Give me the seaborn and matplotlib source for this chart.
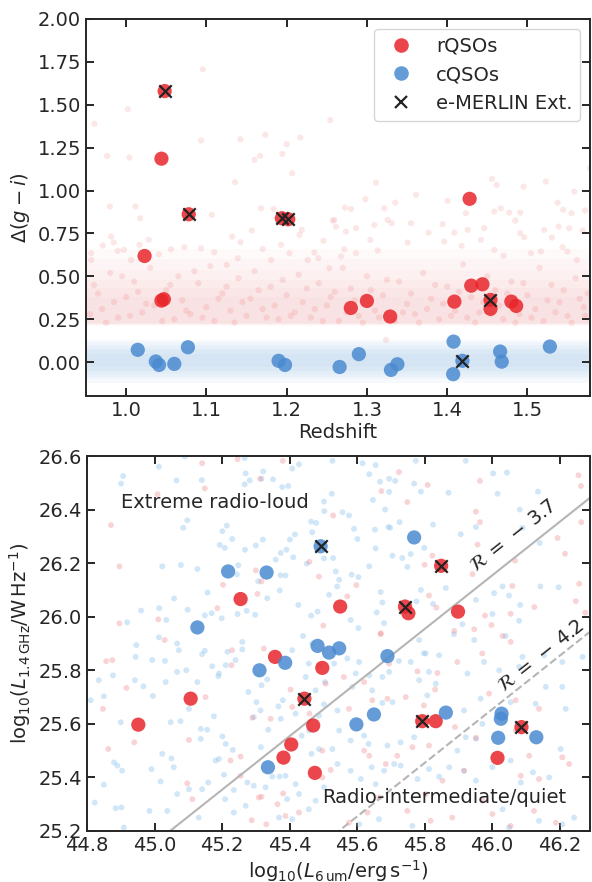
import numpy as np
import pandas as pd
import matplotlib
matplotlib.use("Agg")
import matplotlib.pyplot as plt
from matplotlib.lines import Line2D
import seaborn as sns

# ---------------- data: top panel (redshift vs Delta(g-i)) ----------------
r_z = [1.048, 1.044, 1.078, 1.194, 1.202, 1.023, 1.044, 1.047, 1.428, 1.280,
       1.300, 1.329, 1.409, 1.430, 1.444, 1.454, 1.454, 1.480, 1.486]
r_dgi = [1.58, 1.186, 0.862, 0.839, 0.833, 0.619, 0.359, 0.367, 0.952, 0.316,
         0.357, 0.266, 0.353, 0.446, 0.454, 0.363, 0.311, 0.353, 0.328]
r_ext = [1, 0, 1, 1, 1, 0, 0, 0, 0, 0, 0, 0, 0, 0, 0, 1, 0, 0, 0]

c_z = [1.0145, 1.037, 1.041, 1.060, 1.077, 1.190, 1.198, 1.266, 1.290, 1.330,
       1.338, 1.408, 1.4075, 1.419, 1.466, 1.468, 1.528]
c_dgi = [0.072, 0.004, -0.016, -0.010, 0.087, 0.008, -0.016, -0.028, 0.047, -0.045,
         -0.012, 0.120, -0.070, 0.008, 0.062, 0.003, 0.091]
c_ext = [0, 0, 0, 0, 0, 0, 0, 0, 0, 0, 0, 0, 0, 1, 0, 0, 0]

# parent-sample clouds (top panel)
bg_r_z = [1.0955, 0.9606, 1.0021, 0.9763, 1.0042, 1.0934, 1.1424, 1.1735, 1.2171, 1.2001,
          1.1947, 1.1598, 1.1669, 1.2068, 1.1357, 1.2544, 0.9797, 1.0116, 1.0174, 1.1067,
          1.1681, 1.1839, 1.2574, 1.2615, 1.1320, 1.1424, 1.1565, 1.2188, 1.2159, 1.2458,
          0.9813, 0.9846, 0.9709, 1.0282, 1.0166, 0.9895, 0.9971, 0.9564, 0.9564, 1.0062,
          1.0407, 1.0560, 1.0726, 1.0934, 1.1100, 1.1253, 1.1391, 1.1702, 1.1806, 1.1931,
          1.2034, 1.2262, 1.2395, 1.2345, 1.2532,
          1.3113, 1.4558, 1.4616, 1.4952, 1.5230, 1.5583, 1.5783, 1.4006, 1.3612, 1.3217,
          1.3354, 1.2727, 1.2802, 1.2981, 1.4234, 1.4255, 1.4587, 1.4670, 1.4774, 1.4911,
          1.4849, 1.5446, 1.5550, 1.5720, 1.5376, 1.2595, 1.3093, 1.3259, 1.3309, 1.3549,
          1.3769, 1.3943, 1.4089, 1.4462, 1.4911, 1.4960, 1.5210, 1.5305, 1.5388, 1.5521,
          1.5687, 1.2740, 1.2865, 1.3043, 1.3508, 1.3964, 1.4180, 1.4421, 1.4587, 1.4703,
          1.5044, 1.5168, 1.5438, 1.5500, 1.5616, 1.2719, 1.2678, 1.2864, 1.3134, 1.3238,
          0.96, 0.97, 0.98, 0.99, 1.00, 1.01, 1.02, 1.03, 1.035, 1.05,
          1.06, 1.065, 1.07, 1.08, 1.09, 1.10, 1.105, 1.11, 1.12, 1.13,
          1.14, 1.15, 1.155, 1.16, 1.17, 1.18, 1.19, 1.20, 1.21, 1.215,
          1.22, 1.23, 1.24, 1.25, 1.26, 1.265, 1.27, 1.28, 1.29, 1.30,
          1.31, 1.32, 1.335, 1.34, 1.35, 1.36, 1.37, 1.38, 1.39, 1.40,
          1.41, 1.42, 1.425, 1.43, 1.44, 1.45, 1.46, 1.47, 1.48, 1.49,
          1.50, 1.51, 1.515, 1.52, 1.53, 1.54, 1.55, 1.56, 1.57, 1.575,
          0.955, 0.965, 0.975, 0.985, 0.995, 1.005, 1.015, 1.025, 1.045, 1.055,
          1.075, 1.085, 1.095, 1.115, 1.125, 1.135, 1.145, 1.165, 1.175, 1.185,
          1.195, 1.205, 1.225, 1.235, 1.245, 1.255, 1.275, 1.285, 1.295, 1.305,
          1.315, 1.325, 1.345, 1.355, 1.365, 1.375, 1.385, 1.395, 1.405, 1.415,
          1.435, 1.445, 1.455, 1.465, 1.475, 1.485, 1.495, 1.505, 1.525, 1.535,
          1.545, 1.555, 1.565, 1.572]
bg_r_dgi = [1.707, 1.389, 1.474, 1.202, 1.193, 1.292, 1.299, 1.325, 1.309, 1.270,
            1.214, 1.179, 1.202, 1.101, 1.049, 1.410, 0.907, 0.907, 0.839, 0.858,
            0.897, 0.893, 0.825, 0.790, 0.732, 0.699, 0.767, 0.771, 0.742, 0.707,
            0.732, 0.697, 0.680, 0.713, 0.684, 0.649, 0.655, 0.635, 0.596, 0.596,
            0.629, 0.658, 0.670, 0.664, 0.641, 0.567, 0.606, 0.660, 0.596, 0.684,
            0.635, 0.596, 0.606, 0.639, 0.548,
            1.047, 1.068, 1.033, 1.023, 1.053, 0.994, 1.130, 0.940, 0.975, 0.897,
            0.930, 0.901, 0.893, 0.950, 0.868, 0.771, 0.878, 0.897, 0.872, 0.872,
            0.825, 0.888, 0.868, 0.884, 0.930, 0.829, 0.800, 0.829, 0.810, 0.810,
            0.755, 0.804, 0.755, 0.781, 0.752, 0.728, 0.771, 0.726, 0.790, 0.781,
            0.767, 0.761, 0.781, 0.713, 0.697, 0.703, 0.678, 0.713, 0.654, 0.620,
            0.635, 0.645, 0.670, 0.645, 0.596, 0.658, 0.616, 0.635, 0.651, 0.130,
            0.45, 0.31, 0.52, 0.26, 0.38, 0.47, 0.29, 0.55, 0.33, 0.42,
            0.25, 0.50, 0.36, 0.28, 0.46, 0.32, 0.56, 0.24, 0.40, 0.30,
            0.49, 0.27, 0.37, 0.53, 0.31, 0.44, 0.25, 0.39, 0.29, 0.51,
            0.35, 0.26, 0.46, 0.33, 0.41, 0.24, 0.55, 0.43, 0.27, 0.50,
            0.30, 0.39, 0.24, 0.47, 0.34, 0.28, 0.52, 0.37, 0.25, 0.44,
            0.30, 0.57, 0.26, 0.38, 0.29, 0.50, 0.42, 0.25, 0.47, 0.28,
            0.39, 0.31, 0.55, 0.24, 0.45, 0.35, 0.27, 0.49, 0.32, 0.40,
            0.28, 0.40, 0.23, 0.35, 0.50, 0.27, 0.41, 0.34, 0.24, 0.45,
            0.30, 0.53, 0.26, 0.37, 0.44, 0.23, 0.35, 0.42, 0.26, 0.33,
            0.48, 0.27, 0.43, 0.31, 0.24, 0.38, 0.29, 0.36, 0.23, 0.42,
            0.26, 0.48, 0.29, 0.40, 0.23, 0.31, 0.45, 0.34, 0.27, 0.41,
            0.23, 0.35, 0.28, 0.33, 0.40, 0.23, 0.46, 0.26, 0.36, 0.29,
            0.42, 0.23, 0.37, 0.27]

# density bands of the parent samples: (lower, upper) in Delta(g-i)
rqso_band = [(0.21, 0.66), (0.215, 0.60), (0.22, 0.54), (0.222, 0.48),
             (0.225, 0.43), (0.23, 0.38)]
cqso_band = [(-0.12, 0.13), (-0.10, 0.115), (-0.085, 0.10), (-0.07, 0.085),
             (-0.05, 0.07), (-0.03, 0.05)]

# ---------------- data: bottom panel (L6um vs L1.4GHz) ----------------
rl_l6 = [45.255, 45.849, 45.742, 45.752, 45.899, 45.550, 45.357, 45.497, 45.444, 45.107,
         44.952, 45.470, 45.405, 45.382, 45.475, 45.793, 45.833, 46.016, 46.087]
rl_l14 = [26.066, 26.190, 26.038, 26.013, 26.019, 26.038, 25.850, 25.809, 25.694, 25.694,
          25.597, 25.594, 25.523, 25.474, 25.417, 25.610, 25.610, 25.473, 25.588]
rl_ext = [0, 1, 1, 0, 0, 0, 0, 0, 1, 0, 0, 0, 0, 0, 0, 1, 0, 0, 1]

cl_l6 = [45.492, 45.218, 45.332, 45.127, 45.769, 45.483, 45.517, 45.547, 45.387, 45.311,
         45.336, 45.690, 45.598, 45.650, 45.863, 46.028, 46.026, 46.018, 46.131]
cl_l14 = [26.263, 26.169, 26.165, 25.960, 26.296, 25.891, 25.866, 25.882, 25.828, 25.800,
          25.438, 25.853, 25.598, 25.635, 25.642, 25.638, 25.619, 25.548, 25.550]
cl_ext = [1, 0, 0, 0, 0, 0, 0, 0, 0, 0, 0, 0, 0, 0, 0, 0, 0, 0, 0]

bg_c_l6 = [44.907, 44.901, 45.013, 45.065, 45.140, 45.090, 45.267, 45.270, 45.282, 45.267,
           45.322, 45.317, 45.351, 45.378, 45.396, 45.408, 45.428, 45.502, 45.525, 45.464,
           45.479, 45.503, 45.097, 45.085, 45.201, 45.214, 45.230, 45.193, 45.208, 45.268,
           45.300, 45.321, 45.359, 45.374, 45.391, 45.401, 45.416, 45.411, 45.451, 45.467,
           45.502, 45.023, 45.078, 45.127, 45.248, 45.244, 45.307, 45.373, 45.388, 45.371,
           45.334, 45.157, 45.058, 45.014, 44.960, 44.919, 45.035, 45.098, 45.149, 45.169,
           45.199, 45.246, 45.273, 45.298, 45.426, 45.464, 45.483, 45.517, 45.541, 45.537,
           45.527, 45.616, 45.655, 45.636, 45.695, 45.713, 45.668, 45.774, 45.922, 46.003,
           46.044, 45.647, 45.695, 45.769, 45.789, 45.871, 46.016, 46.136, 45.557, 45.576,
           45.683, 45.726, 45.693, 45.698, 45.591, 45.601, 45.653, 45.825, 45.907, 45.952,
           46.082, 46.090, 46.141, 45.655, 45.705, 45.734, 45.759, 45.799, 45.636, 45.749,
           45.529, 45.547, 45.584, 45.604, 45.670, 45.789, 45.863, 45.952, 46.006, 46.031,
           46.050, 46.083, 46.143, 46.197, 45.675, 45.776, 45.825, 45.658, 46.001, 46.080,
           45.581, 45.680, 45.912, 45.604, 46.040,
           44.811, 44.835, 44.850, 44.877, 44.900, 44.890, 44.880, 44.904, 44.850, 44.823,
           44.885, 44.902, 44.946, 44.944, 44.993, 44.942, 44.967, 44.995, 45.033, 45.013,
           45.067, 45.072, 45.031, 45.067, 45.094, 45.127, 45.149, 45.141, 45.171, 45.191,
           45.189, 45.211, 45.260, 45.260, 45.240, 45.216, 45.048, 45.077, 45.102, 45.137,
           45.137, 45.156, 45.176, 45.201, 45.211, 45.232, 45.181, 45.191, 45.050, 45.057,
           45.023, 44.991, 45.018, 44.985, 45.038, 45.067, 45.102, 45.141, 45.159, 45.206,
           45.235, 45.275, 45.209, 45.235, 45.270, 45.131, 44.909, 45.294, 45.314, 45.317,
           45.334, 45.278, 45.302, 45.367, 45.380, 45.374, 45.337, 45.315, 45.349, 45.370,
           45.388, 45.294, 45.329, 45.418, 45.393, 45.428, 45.369, 45.408, 45.457, 45.477,
           45.502, 45.465, 45.487, 45.436, 45.458, 45.418, 45.487, 45.502, 45.477, 45.505,
           45.448, 45.457, 45.408, 45.440, 45.467,
           45.532, 45.571, 45.606, 45.596, 45.636, 45.586, 45.645, 45.675, 45.695, 45.724,
           45.759, 45.798, 45.843, 45.784, 45.813, 45.833, 45.808, 45.705, 45.675, 45.542,
           45.547, 45.581, 45.621, 45.634, 45.690, 45.729, 45.769, 45.527, 45.542, 45.581,
           45.611, 45.643, 45.655, 45.680, 45.710, 45.729, 45.779, 45.813, 45.843, 45.873,
           45.917, 45.952, 46.001, 46.055, 46.085, 46.121, 46.169, 46.203, 45.922, 45.897,
           45.952, 45.917, 45.971, 45.966, 46.055, 46.129, 46.218, 46.208, 46.159, 46.268,
           46.208, 45.927, 45.976, 46.021, 46.080, 46.090, 46.154, 45.947, 45.887, 45.784,
           45.803, 46.031, 46.208, 46.243, 46.139, 46.050, 45.764, 45.665, 45.606]
bg_c_l14 = [26.525, 26.497, 26.560, 26.509, 26.510, 26.598, 26.592, 26.535, 26.509, 26.494,
            26.542, 26.515, 26.513, 26.484, 26.488, 26.553, 26.569, 26.430, 26.459, 26.355,
            26.350, 26.394, 26.360, 26.332, 26.319, 26.340, 26.290, 26.268, 26.257, 26.250,
            26.266, 26.288, 26.213, 26.238, 26.250, 26.288, 26.307, 26.222, 26.198, 26.315,
            26.218, 26.188, 26.193, 26.178, 26.192, 26.158, 26.132, 26.155, 26.154, 26.098,
            26.069, 26.090, 26.068, 26.032, 26.023, 25.979, 25.988, 26.026, 26.005, 26.013,
            25.994, 26.010, 26.022, 26.007, 26.044, 26.004, 26.019, 26.082, 26.113, 26.169,
            26.582, 26.573, 26.566, 26.532, 26.515, 26.507, 26.504, 26.582, 26.582, 26.535,
            26.538, 26.436, 26.466, 26.497, 26.467, 26.463, 26.459, 26.467, 26.390, 26.378,
            26.400, 26.353, 26.335, 26.332, 26.328, 26.290, 26.325, 26.344, 26.308, 26.335,
            26.400, 26.332, 26.275, 26.255, 26.228, 26.219, 26.234, 26.257, 26.188, 26.186,
            26.219, 26.138, 26.157, 26.148, 26.092, 26.100, 26.107, 26.063, 26.088, 26.113,
            26.079, 26.044, 26.113, 26.110, 26.053, 26.057, 26.048, 26.016, 26.010, 25.985,
            25.988, 25.976, 25.972, 25.957, 25.928,
            25.688, 25.763, 25.703, 25.781, 25.606, 25.444, 25.456, 25.425, 25.373, 25.306,
            25.285, 25.288, 25.894, 25.850, 25.838, 25.763, 25.740, 25.704, 25.756, 25.923,
            25.900, 25.875, 25.835, 25.794, 25.800, 25.756, 25.873, 25.860, 25.815, 25.788,
            25.778, 25.819, 25.906, 25.878, 25.838, 25.869, 25.606, 25.610, 25.656, 25.581,
            25.544, 25.578, 25.628, 25.553, 25.525, 25.503, 25.463, 25.469, 25.471, 25.438,
            25.488, 25.431, 25.385, 25.275, 25.275, 25.338, 25.356, 25.356, 25.381, 25.410,
            25.353, 25.381, 25.319, 25.269, 25.294, 25.250, 25.213, 25.625, 25.650, 25.744,
            25.766, 25.719, 25.681, 25.665, 25.688, 25.619, 25.578, 25.513, 25.403, 25.403,
            25.406, 25.369, 25.363, 25.375, 25.319, 25.338, 25.250, 25.244, 25.281, 25.313,
            25.363, 25.488, 25.506, 25.556, 25.575, 25.638, 25.631, 25.673, 25.725, 25.756,
            25.775, 25.825, 25.875, 25.928, 25.900,
            25.825, 25.844, 25.831, 25.788, 25.781, 25.738, 25.725, 25.775, 25.794, 25.835,
            25.831, 25.863, 25.856, 25.763, 25.794, 25.750, 25.706, 25.681, 25.678, 25.650,
            25.575, 25.538, 25.556, 25.525, 25.519, 25.531, 25.550, 25.506, 25.450, 25.425,
            25.394, 25.438, 25.375, 25.425, 25.450, 25.444, 25.394, 25.431, 25.403, 25.438,
            25.425, 25.388, 25.438, 25.463, 25.381, 25.419, 25.400, 25.506, 25.550, 25.500,
            25.544, 25.650, 25.600, 25.694, 25.681, 25.675, 25.656, 25.738, 25.738, 25.850,
            25.831, 25.788, 25.831, 25.800, 25.813, 25.850, 25.856, 25.913, 25.935, 25.913,
            25.863, 25.281, 25.225, 25.250, 25.238, 25.213, 25.219, 25.244, 25.225]

bg_r_l6 = [45.141, 45.246, 45.380, 45.313, 45.149, 44.871, 44.896, 45.203, 45.300, 45.317,
           45.305, 45.186, 45.011, 44.896, 45.487, 45.500, 45.459, 45.529, 45.009,
           45.724, 45.964, 46.256, 46.263, 45.809, 45.672, 45.749, 45.952, 45.964, 46.264,
           46.194, 46.216, 45.957, 45.823, 45.800, 46.068, 45.942, 45.598, 46.060, 46.258,
           45.813, 45.835, 45.979, 46.055, 46.125, 46.248, 46.276, 45.571, 45.888, 45.947,
           45.998, 45.670,
           44.857, 44.875, 44.847, 44.863, 44.917, 44.940, 45.030, 45.151, 45.102, 45.097,
           45.112, 45.228, 45.225, 45.255, 45.255, 45.290, 45.344, 45.317, 45.331, 45.288,
           45.324, 45.403, 45.408, 45.459, 45.497, 45.507, 45.487, 45.497, 45.522, 45.428,
           45.364, 45.381, 45.388, 45.309, 45.230,
           45.670, 46.031, 46.055, 45.971, 45.897, 45.838, 45.779, 45.831, 45.744, 45.798,
           45.576, 45.645, 45.690, 45.561, 45.621, 45.695, 45.991, 46.070, 46.139, 45.890,
           45.813, 45.764, 45.719, 45.685, 45.636, 45.621, 45.952, 46.070, 46.110, 46.208,
           46.228, 46.085, 46.139, 45.917, 45.853, 45.803, 45.749, 45.818, 45.882, 45.971,
           46.001, 46.055, 46.124, 46.189, 45.576, 45.631, 45.665]
bg_r_l14 = [26.573, 26.588, 26.582, 26.515, 26.479, 26.342, 26.188, 26.119, 26.173, 26.132,
            26.085, 26.032, 25.990, 25.975, 26.150, 25.967, 26.205, 26.378, 26.457,
            26.540, 26.507, 26.528, 26.488, 26.492, 26.469, 26.428, 26.392, 26.353, 26.353,
            26.294, 26.235, 26.269, 26.228, 26.194, 26.209, 26.159, 26.118, 26.115, 26.123,
            26.079, 26.034, 26.004, 26.011, 26.036, 26.058, 26.015, 26.076, 25.947, 25.953,
            25.969, 25.938,
            25.834, 25.838, 25.656, 25.506, 25.734, 25.531, 25.913, 25.700, 25.540, 25.378,
            25.319, 25.819, 25.463, 25.478, 25.406, 25.623, 25.619, 25.328, 25.225, 25.240,
            25.881, 25.728, 25.663, 25.638, 25.500, 25.750, 25.819, 25.400, 25.428, 25.269,
            25.300, 25.340, 25.256, 25.325, 25.875,
            25.935, 25.928, 25.906, 25.863, 25.831, 25.790, 25.796, 25.728, 25.700, 25.669,
            25.656, 25.688, 25.694, 25.775, 25.756, 25.825, 25.713, 25.688, 25.656, 25.588,
            25.519, 25.513, 25.481, 25.450, 25.481, 25.500, 25.548, 25.575, 25.481, 25.475,
            25.450, 25.406, 25.394, 25.425, 25.388, 25.338, 25.275, 25.238, 25.250, 25.313,
            25.263, 25.219, 25.275, 25.231, 25.231, 25.269, 25.325]

# radio-loudness boundaries R = log(nu L_1.4GHz / L_6um)
r_levels = [-3.7, -4.2]
nu_offset = 16.146  # log10(1.4e9 Hz) + 7 (W -> erg/s)

# ---------------- style ----------------
sns.set_theme(style="ticks")
plt.rcParams["font.family"] = ["DejaVu Sans"]
plt.rcParams.update({
    "font.size": 14, "axes.labelsize": 14, "xtick.labelsize": 14, "ytick.labelsize": 14,
    "legend.fontsize": 14, "axes.linewidth": 1.4,
    "xtick.direction": "in", "ytick.direction": "in",
    "xtick.top": True, "ytick.right": True,
    "xtick.major.size": 5.5, "ytick.major.size": 5.5,
    "xtick.major.width": 1.4, "ytick.major.width": 1.4,
    "mathtext.fontset": "dejavusans",
})

RED = "#e8262b"
BLUE = "#4a8bd0"
XCOL = "#222222"

fig = plt.figure(figsize=(5.92, 8.82), dpi=100)
ax1 = fig.add_axes([86 / 592, 1 - 396.5 / 882, 504 / 592, 377.5 / 882])
ax2 = fig.add_axes([87 / 592, 1 - 831 / 882, 503 / 592, 375 / 882])

# ---------------- top panel ----------------
xs = [0.9, 1.7]
for lo, hi in rqso_band:
    ax1.fill_between(xs, lo, hi, color="#f06a6e", alpha=0.03, lw=0, zorder=0)
for lo, hi in cqso_band:
    ax1.fill_between(xs, lo, hi, color="#7fb2e5", alpha=0.06, lw=0, zorder=0)

sns.scatterplot(x=bg_r_z, y=bg_r_dgi, ax=ax1, color=RED, alpha=0.11, s=20,
                edgecolor="none", zorder=1)

top_r = pd.DataFrame({"z": r_z, "d": r_dgi, "ext": r_ext})
top_c = pd.DataFrame({"z": c_z, "d": c_dgi, "ext": c_ext})
sns.scatterplot(data=top_r, x="z", y="d", ax=ax1, color=RED, alpha=0.85, s=105,
                edgecolor="none", zorder=3)
sns.scatterplot(data=top_c, x="z", y="d", ax=ax1, color=BLUE, alpha=0.85, s=105,
                edgecolor="none", zorder=3)
ext_top = pd.concat([top_r[top_r.ext == 1], top_c[top_c.ext == 1]])
sns.scatterplot(data=ext_top, x="z", y="d", ax=ax1, color=XCOL, marker="x", s=80,
                linewidth=1.6, zorder=4)

ax1.set_xlim(0.95, 1.578)
ax1.set_ylim(-0.2, 2.0)
ax1.set_xticks([1.0, 1.1, 1.2, 1.3, 1.4, 1.5])
ax1.set_yticks(np.arange(0, 2.01, 0.25))
ax1.set_yticklabels([f"{v:.2f}" for v in np.arange(0, 2.01, 0.25)])
ax1.set_xlabel("Redshift", labelpad=2)
ax1.set_ylabel(r"$\Delta(g-i)$", labelpad=4)

handles = [
    Line2D([], [], ls="none", marker="o", ms=10.5, color=RED, alpha=0.85, mec="none"),
    Line2D([], [], ls="none", marker="o", ms=10.5, color=BLUE, alpha=0.85, mec="none"),
    Line2D([], [], ls="none", marker="x", ms=9, color=XCOL, mew=1.6),
]
ax1.legend(handles, ["rQSOs", "cQSOs", "e-MERLIN Ext."], loc="upper right",
           frameon=True, framealpha=0.8, edgecolor="#cccccc", fancybox=True)

# ---------------- bottom panel ----------------
sns.scatterplot(x=bg_c_l6, y=bg_c_l14, ax=ax2, color="#8cc3ee", alpha=0.4, s=18,
                edgecolor="none", zorder=1)
sns.scatterplot(x=bg_r_l6, y=bg_r_l14, ax=ax2, color="#ef7c80", alpha=0.32, s=18,
                edgecolor="none", zorder=1)

bx = np.array([44.7, 46.4])
for rv, ls in zip(r_levels, ["-", "--"]):
    ax2.plot(bx, bx + rv - nu_offset, color="#b5b5b5", lw=1.5, ls=ls, zorder=2)

bot_r = pd.DataFrame({"x": rl_l6, "y": rl_l14, "ext": rl_ext})
bot_c = pd.DataFrame({"x": cl_l6, "y": cl_l14, "ext": cl_ext})
sns.scatterplot(data=bot_r, x="x", y="y", ax=ax2, color=RED, alpha=0.85, s=105,
                edgecolor="none", zorder=3)
sns.scatterplot(data=bot_c, x="x", y="y", ax=ax2, color=BLUE, alpha=0.85, s=105,
                edgecolor="none", zorder=3)
ext_bot = pd.concat([bot_r[bot_r.ext == 1], bot_c[bot_c.ext == 1]])
sns.scatterplot(data=ext_bot, x="x", y="y", ax=ax2, color=XCOL, marker="x", s=80,
                linewidth=1.6, zorder=4)

ax2.set_xlim(44.8, 46.29)
ax2.set_ylim(25.2, 26.6)
ax2.set_xticks(np.round(np.arange(44.8, 46.21, 0.2), 1))
ax2.set_yticks(np.round(np.arange(25.2, 26.61, 0.2), 1))
ax2.set_xticklabels([f"{v:.1f}" for v in np.arange(44.8, 46.21, 0.2)])
ax2.set_yticklabels([f"{v:.1f}" for v in np.arange(25.2, 26.61, 0.2)])
ax2.set_xlabel(r"$\mathrm{log}_{10}(L_{6\,\mathrm{um}}/\mathrm{erg\,s^{-1}})$", labelpad=2)
ax2.set_ylabel(r"$\mathrm{log}_{10}(L_{1.4\,\mathrm{GHz}}/\mathrm{W\,Hz^{-1}})$", labelpad=4)

ax2.text(44.90, 26.428, "Extreme radio-loud", ha="left", va="center", zorder=5)
ax2.text(45.496, 25.324, "Radio-intermediate/quiet", ha="left", va="center", zorder=5)
ax2.text(46.061, 26.301, r"$\mathcal{R}\,=\,-\,3.7$", ha="center", va="center",
         rotation=38.3, rotation_mode="anchor", zorder=5)
ax2.text(46.145, 25.852, r"$\mathcal{R}\,=\,-\,4.2$", ha="center", va="center",
         rotation=38.3, rotation_mode="anchor", zorder=5)

fig.savefig("out.png", dpi=100)
